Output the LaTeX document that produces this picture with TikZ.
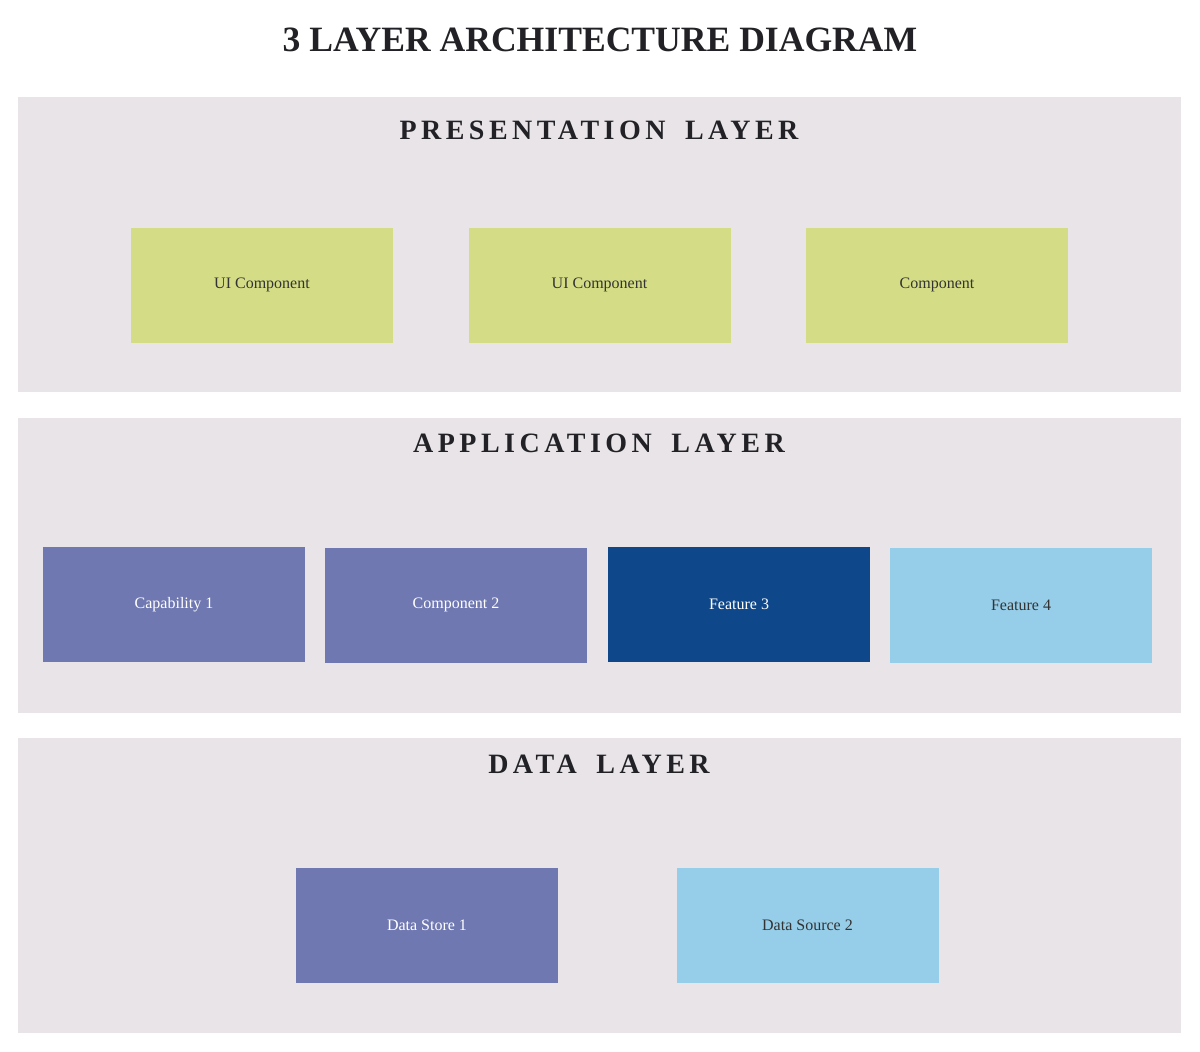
\documentclass[tikz,border=0pt]{standalone}
\usepackage{fontspec}
\setmainfont{Liberation Serif}
\newfontfamily\spacedfont[LetterSpace=16]{Liberation Serif}
\definecolor{panelbg}{HTML}{E8E4E8}
\definecolor{greenbox}{HTML}{D4DD85}
\definecolor{purplebox}{HTML}{6F78B0}
\definecolor{darkbox}{HTML}{0F488A}
\definecolor{lightbox}{HTML}{96CDE8}
\definecolor{ink}{HTML}{222226}
\definecolor{boxink}{HTML}{333333}
\newcommand{\wsp}{\ \hspace{8pt}}
\begin{document}
\begin{tikzpicture}[x=1pt,y=-1pt,
  panel/.style={fill=panelbg, draw=none, minimum width=1163pt, minimum height=295pt, inner sep=0pt},
  header/.style={text=ink, font=\fontsize{28}{30}\selectfont\bfseries\spacedfont},
  box/.style={draw=none, minimum width=262pt, minimum height=115pt, inner sep=0pt, font=\fontsize{16}{18}\selectfont},
  lightlabel/.style={box, text=boxink},
  darklabel/.style={box, text=white}]
\useasboundingbox (0,0) rectangle (1200,1052);
\fill[white] (0,0) rectangle (1200,1052);
\node[text=ink, font=\fontsize{35.6}{38}\selectfont\bfseries] (title) at (600,40) {3 LAYER ARCHITECTURE DIAGRAM};
% panels
\node[panel] (pres) at (599.5,244.5) {};
\node[panel] (app) at (599.5,565.5) {};
\node[panel] (data) at (599.5,885.5) {};
\node[header] (presh) at (599,130) {PRESENTATION\wsp LAYER};
\node[header] (apph) at (599,443) {APPLICATION\wsp LAYER};
\node[header] (datah) at (599,764) {DATA\wsp LAYER};
% presentation
\node[lightlabel, fill=greenbox] (p1) at (262,285) {UI Component};
\node[lightlabel, fill=greenbox] (p2) at (599.5,285) {UI Component};
\node[lightlabel, fill=greenbox] (p3) at (937,285) {Component};
% application
\node[darklabel, fill=purplebox] (a1) at (174,604.5) {Capability 1};
\node[darklabel, fill=purplebox] (a2) at (456,605) {Component 2};
\node[darklabel, fill=darkbox] (a3) at (739,604.5) {Feature 3};
\node[lightlabel, fill=lightbox] (a4) at (1021,605) {Feature 4};
% data
\node[darklabel, fill=purplebox] (d1) at (427,925.5) {Data Store 1};
\node[lightlabel, fill=lightbox] (d2) at (807.5,925.5) {Data Source 2};
\end{tikzpicture}
\end{document}
